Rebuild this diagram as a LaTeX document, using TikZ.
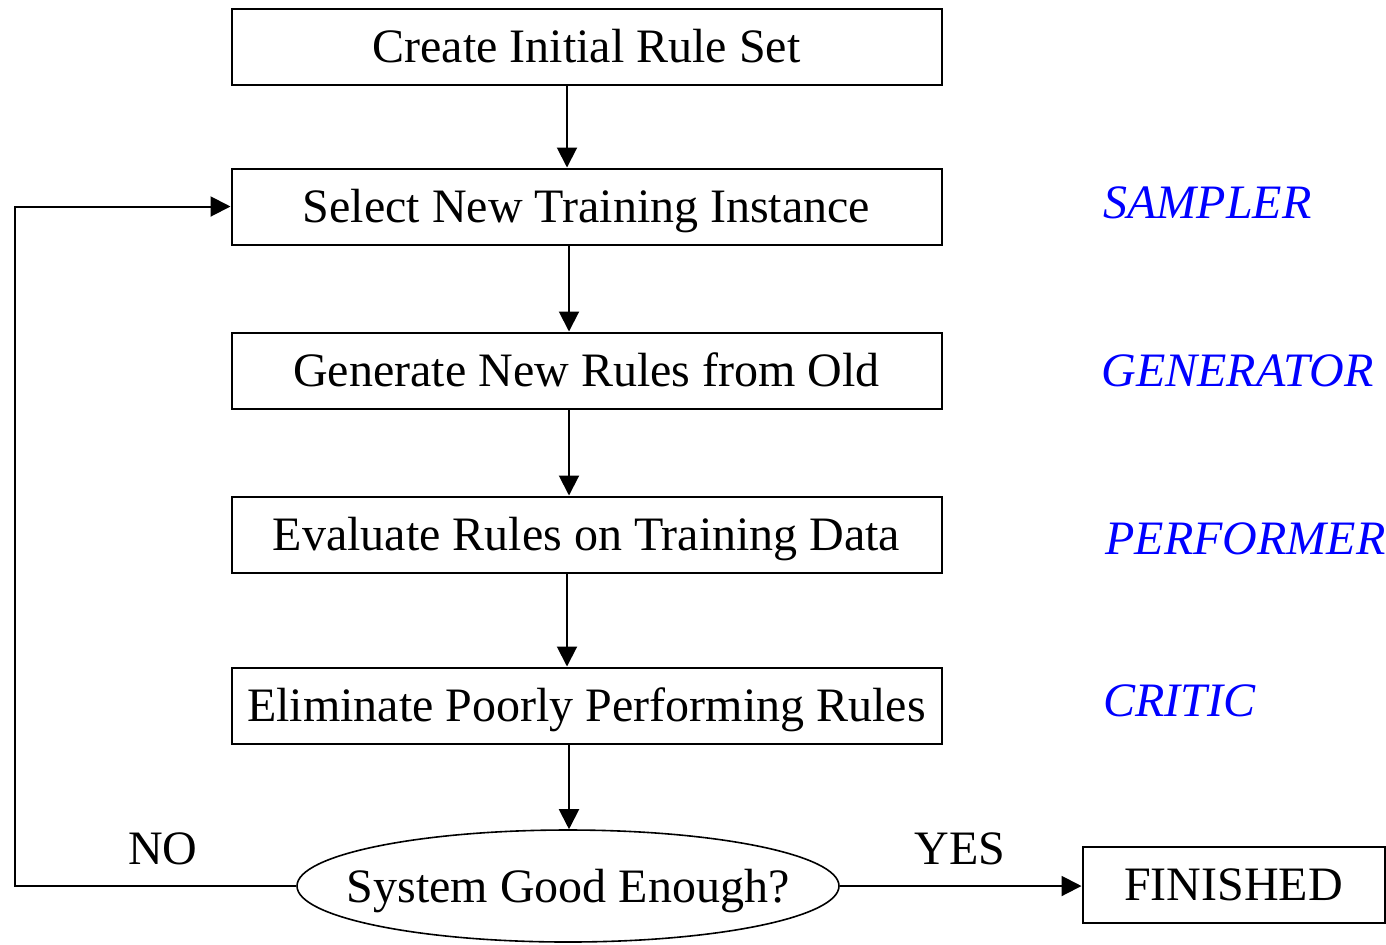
\documentclass[tikz,border=0pt]{standalone}
\usepackage{fontspec}
\setmainfont{Liberation Serif}
\usepackage{tikz}
\usetikzlibrary{arrows.meta,positioning,shapes.geometric}
\definecolor{rolecol}{rgb}{0,0,1}

\tikzset{
  stepbox/.style={draw, line width=1pt, minimum width=355pt, minimum height=38pt,
    inner sep=0pt, text height=16pt, text depth=0pt, font=\fontsize{24}{28}\selectfont},
  decision/.style={draw, ellipse, line width=0.8pt, minimum width=271pt, minimum height=56pt,
    inner xsep=-20pt, inner ysep=0pt, text height=16pt, text depth=0pt, font=\fontsize{24}{28}\selectfont},
  role/.style={rolecol, anchor=west, inner sep=0pt, font=\fontsize{24}{28}\selectfont\itshape},
  answer/.style={inner sep=0pt, font=\fontsize{24}{28}\selectfont},
  flow/.style={line width=1pt, -{Triangle[length=10pt,width=10pt]}}
}

\begin{document}
\begin{tikzpicture}[x=0.5pt, y=-0.5pt]
            \useasboundingbox (0,0) rectangle (1386,944);
            % Main column of steps
            \node[stepbox] (init) at (586.5, 46.5) {Create Initial Rule Set};
            \node[stepbox] (select) at (586.5, 206.5) {Select New Training Instance};
            \node[stepbox] (generate) at (586.5, 370.5) {Generate New Rules from Old};
            \node[stepbox] (evaluate) at (586.5, 534.5) {Evaluate Rules on Training Data};
            \node[stepbox] (eliminate) at (586.5, 705.5) {Eliminate Poorly Performing Rules};
            \node[decision] (good) at (568, 886) {System Good Enough?};
            \node[stepbox, minimum width=151pt] (finished) at (1233.5, 884.5) {FINISHED};
            % Component names
            \node[role] (sampler) at (1103, 203) {SAMPLER};
            \node[role] (generator) at (1101, 371) {GENERATOR};
            \node[role] (performer) at (1105, 539) {PERFORMER};
            \node[role] (critic) at (1103, 701) {CRITIC};
            % Helper points
            \coordinate (spine) at (567, 0);
            \coordinate (back) at (15, 0);
            % Arrows down the column
            \draw[flow] (init.south -| spine) -- (select.north -| spine);
            \draw[flow] ([xshift=1pt]select.south -| spine) -- ([xshift=1pt]generate.north -| spine);
            \draw[flow] ([xshift=1pt]generate.south -| spine) -- ([xshift=1pt]evaluate.north -| spine);
            \draw[flow] (evaluate.south -| spine) -- (eliminate.north -| spine);
            \draw[flow] ([xshift=1pt]eliminate.south -| spine) -- ([xshift=1pt]good.north -| spine);
            % Decision branches
            \draw[flow] (good.west) -| (back |- select.west) -- (select.west);
            \draw[flow] (good.east) -- (good.east -| finished.west);
            \node[answer] (no) at (163, 849) {NO};
            \node[answer] (yes) at (960, 849) {YES};
          \end{tikzpicture}
\end{document}
